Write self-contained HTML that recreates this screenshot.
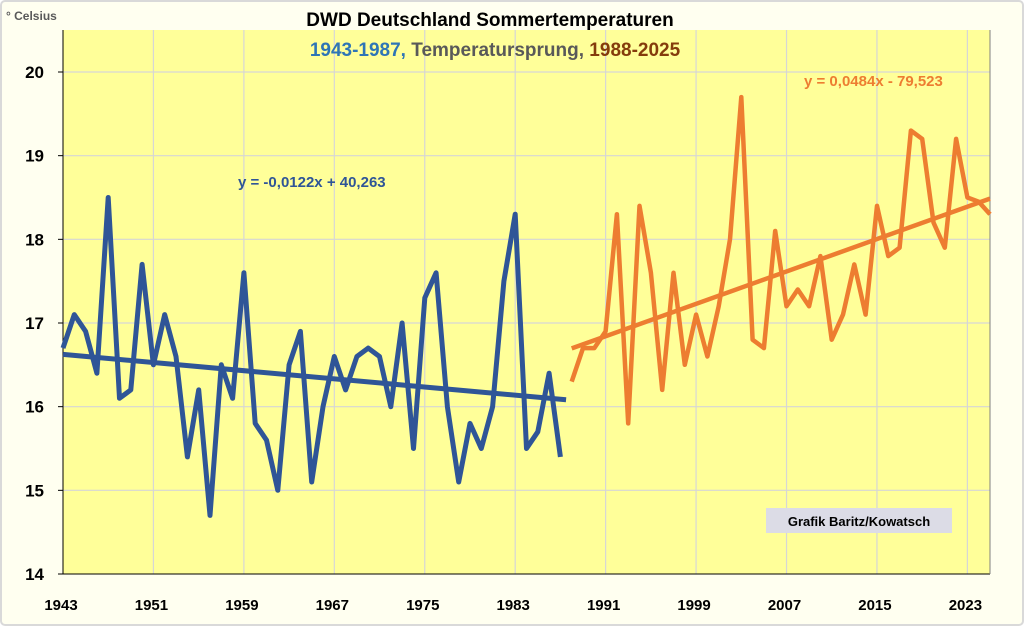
<!DOCTYPE html>
<html><head><meta charset="utf-8"><style>
html,body{margin:0;padding:0;background:#fff;}
svg{display:block;font-family:"Liberation Sans",sans-serif;}
</style></head><body>
<svg id="chart" width="1024" height="626" viewBox="0 0 1024 626" xmlns="http://www.w3.org/2000/svg">
<rect x="1" y="1" width="1022" height="624" rx="4" fill="#fffff0" stroke="#d9d9d9" stroke-width="2"/>
<rect x="63" y="30" width="927" height="544" fill="#ffff99"/>
<g id="grid"></g>
<g id="axes"></g>
<g id="series"></g>
<text x="6" y="20" font-size="12" font-weight="bold" fill="#595959">° Celsius</text>
<text x="490" y="26" font-size="19" font-weight="bold" text-anchor="middle" fill="#000">DWD Deutschland Sommertemperaturen</text>
<text x="495" y="56" font-size="19" font-weight="bold" text-anchor="middle"><tspan fill="#2e75b6">1943-1987,</tspan><tspan fill="#595959"> Temperatursprung,</tspan><tspan fill="#843c0c"> 1988-2025</tspan></text>
<text x="238" y="187" font-size="15" font-weight="bold" fill="#2f5597">y = -0,0122x + 40,263</text>
<text x="804" y="86" font-size="15" font-weight="bold" fill="#ed7d31">y = 0,0484x - 79,523</text>
<rect x="766" y="508" width="186" height="25" fill="#dcdce6"/>
<text x="859" y="526" font-size="13" font-weight="bold" text-anchor="middle" fill="#000">Grafik Baritz/Kowatsch</text>
</svg>
<script>
const years1 = [1943,1944,1945,1946,1947,1948,1949,1950,1951,1952,1953,1954,1955,1956,1957,1958,1959,1960,1961,1962,1963,1964,1965,1966,1967,1968,1969,1970,1971,1972,1973,1974,1975,1976,1977,1978,1979,1980,1981,1982,1983,1984,1985,1986,1987];
const temps1 = [16.7,17.1,16.9,16.4,18.5,16.1,16.2,17.7,16.5,17.1,16.6,15.4,16.2,14.7,16.5,16.1,17.6,15.8,15.6,15.0,16.5,16.9,15.1,16.0,16.6,16.2,16.6,16.7,16.6,16.0,17.0,15.5,17.3,17.6,16.0,15.1,15.8,15.5,16.0,17.5,18.3,15.5,15.7,16.4,15.4];
const years2 = [1988,1989,1990,1991,1992,1993,1994,1995,1996,1997,1998,1999,2000,2001,2002,2003,2004,2005,2006,2007,2008,2009,2010,2011,2012,2013,2014,2015,2016,2017,2018,2019,2020,2021,2022,2023,2024,2025];
const temps2 = [16.3,16.7,16.7,16.9,18.3,15.8,18.4,17.6,16.2,17.6,16.5,17.1,16.6,17.2,18.0,19.7,16.8,16.7,18.1,17.2,17.4,17.2,17.8,16.8,17.1,17.7,17.1,18.4,17.8,17.9,19.3,19.2,18.2,17.9,19.2,18.5,18.45,18.3];
const trend1 = [-0.0122, 40.33];
const trend2 = [0.0484, -79.523];
const yTicks = [14,15,16,17,18,19,20];
const xTicks = [1943,1951,1959,1967,1975,1983,1991,1999,2007,2015,2023];

const X0=63, X1=990, Y0=574, Y1=72;
const xMin=1943, xMax=2025;
function sx(v){return X0+(v-xMin)*(X1-X0)/(xMax-xMin);}
function sy(v){return Y0-(v-14)*(Y0-Y1)/6;}
const NS='http://www.w3.org/2000/svg';
function mk(tag, parent, attrs){const e=document.createElementNS(NS,tag);for(const k in attrs)e.setAttribute(k,attrs[k]);document.getElementById(parent).appendChild(e);return e;}

yTicks.forEach(t=>{
  if(t>14){const g=mk('line','grid',{x1:X0,x2:X1,y1:sy(t),y2:sy(t),stroke:'#d6d6d6','stroke-width':1.2});
  
  }
  const tk=mk('line','axes',{x1:X0-5,x2:X0,y1:sy(t),y2:sy(t),stroke:'#000'});
  
  
  const l=mk('text','axes',{x:44,y:sy(t)+6,'font-size':17,'font-weight':'bold','text-anchor':'end',fill:'#000'});
  l.textContent=t;
  
  
});
xTicks.forEach(t=>{
  if(t>1943){const g=mk('line','grid',{x1:sx(t),x2:sx(t),y1:30,y2:Y0,stroke:'#d6d6d6','stroke-width':1.2});
  
  }
  const l=mk('text','axes',{x:sx(t)-2,y:610,'font-size':15,'font-weight':'bold','text-anchor':'middle',fill:'#000'});
  l.textContent=t;
  
  
});
const ax=mk('path','axes',{d:`M${X0} 30 V${Y0} H${X1}`,fill:'none',stroke:'#000','stroke-width':1});


const bx=mk('line','axes',{x1:X1,x2:X1,y1:30,y2:Y0,stroke:'#808080','stroke-width':1});



function poly(ys, vs){return ys.map((y,i)=>`${sx(y).toFixed(1)},${sy(vs[i]).toFixed(1)}`).join(' ');}
const l1=mk('polyline','series',{points:poly(years1,temps1),fill:'none',stroke:'#2f5597','stroke-width':5,'stroke-linejoin':'round'});


const l2=mk('polyline','series',{points:poly(years2,temps2),fill:'none',stroke:'#ed7d31','stroke-width':4.5,'stroke-linejoin':'round'});


const ta=years1[0], tb=years1[years1.length-1]+0.5;
const t1=mk('line','series',{x1:sx(ta),y1:sy(trend1[0]*ta+trend1[1]),x2:sx(tb),y2:sy(trend1[0]*tb+trend1[1]),stroke:'#2f5597','stroke-width':5});


const tc=years2[0], td=years2[years2.length-1];
const t2=mk('line','series',{x1:sx(tc),y1:sy(trend2[0]*tc+trend2[1]),x2:sx(td),y2:sy(trend2[0]*td+trend2[1]),stroke:'#ed7d31','stroke-width':4.5});


</script>
</body></html>
